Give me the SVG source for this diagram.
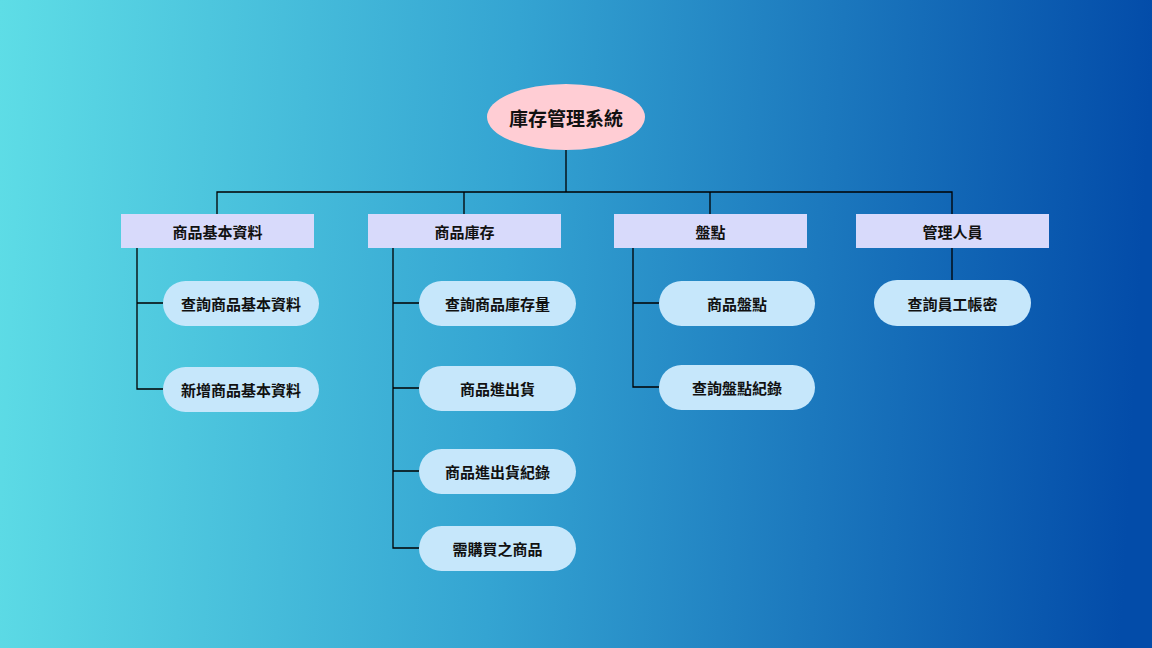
<svg xmlns="http://www.w3.org/2000/svg" width="1152" height="648" viewBox="0 0 1152 648">
<defs>
<linearGradient id="bg" x1="0" y1="0" x2="1152" y2="60" gradientUnits="userSpaceOnUse">
<stop offset="0" stop-color="#5edde6"/>
<stop offset="0.45" stop-color="#34a4d2"/>
<stop offset="1" stop-color="#034ca9"/>
</linearGradient>
<style>
.cat{fill:#d8dafb}
.leaf{fill:#c6e7fb}
.root{fill:#ffcdd4}
text{font-family:"Noto Sans CJK TC","Noto Sans CJK SC",sans-serif;fill:#111;text-anchor:middle;dominant-baseline:central;font-weight:bold}
.t{font-size:15px}
.rt{font-size:19px}
.ln{fill:none;stroke:#000;stroke-width:1.3}
</style>
</defs>
<rect width="1152" height="648" fill="url(#bg)"/>
<g id="connectors">
<path class="ln" d="M566 150V192M217 214V192H952V214M464 192V214M710 192V214"/>
<path class="ln" d="M137 248V389H163M137 303H163"/>
<path class="ln" d="M393 248V548H419M393 303H419M393 388H419M393 471H419"/>
<path class="ln" d="M633 248V387H659M633 303H659"/>
<path class="ln" d="M952 248V280"/>
</g>
<g id="root"><ellipse class="root" cx="566" cy="117" rx="79" ry="33"/><text class="rt" x="566" y="117">庫存管理系統</text></g>
<g id="c1"><rect class="cat" x="121" y="214" width="193" height="34"/><text class="t" x="217.5" y="231">商品基本資料</text></g>
<g id="c2"><rect class="cat" x="368" y="214" width="193" height="34"/><text class="t" x="464.5" y="231">商品庫存</text></g>
<g id="c3"><rect class="cat" x="614" y="214" width="193" height="34"/><text class="t" x="710.5" y="231">盤點</text></g>
<g id="c4"><rect class="cat" x="856" y="214" width="193" height="34"/><text class="t" x="952.5" y="231">管理人員</text></g>
<g id="l1"><rect class="leaf" x="163" y="281" width="156" height="45" rx="22.5"/><text class="t" x="241" y="303.5">查詢商品基本資料</text></g>
<g id="l2"><rect class="leaf" x="163" y="367" width="156" height="45" rx="22.5"/><text class="t" x="241" y="389.5">新增商品基本資料</text></g>
<g id="l3"><rect class="leaf" x="419" y="281" width="157" height="45" rx="22.5"/><text class="t" x="497.5" y="303.5">查詢商品庫存量</text></g>
<g id="l4"><rect class="leaf" x="419" y="366" width="157" height="45" rx="22.5"/><text class="t" x="497.5" y="388.5">商品進出貨</text></g>
<g id="l5"><rect class="leaf" x="419" y="449" width="157" height="45" rx="22.5"/><text class="t" x="497.5" y="471.5">商品進出貨紀錄</text></g>
<g id="l6"><rect class="leaf" x="419" y="526" width="157" height="45" rx="22.5"/><text class="t" x="497.5" y="548.5">需購買之商品</text></g>
<g id="l7"><rect class="leaf" x="659" y="281" width="156" height="45" rx="22.5"/><text class="t" x="737" y="303.5">商品盤點</text></g>
<g id="l8"><rect class="leaf" x="659" y="365" width="156" height="45" rx="22.5"/><text class="t" x="737" y="387.5">查詢盤點紀錄</text></g>
<g id="l9"><rect class="leaf" x="874" y="280" width="157" height="46" rx="23"/><text class="t" x="952.5" y="303">查詢員工帳密</text></g>
</svg>
